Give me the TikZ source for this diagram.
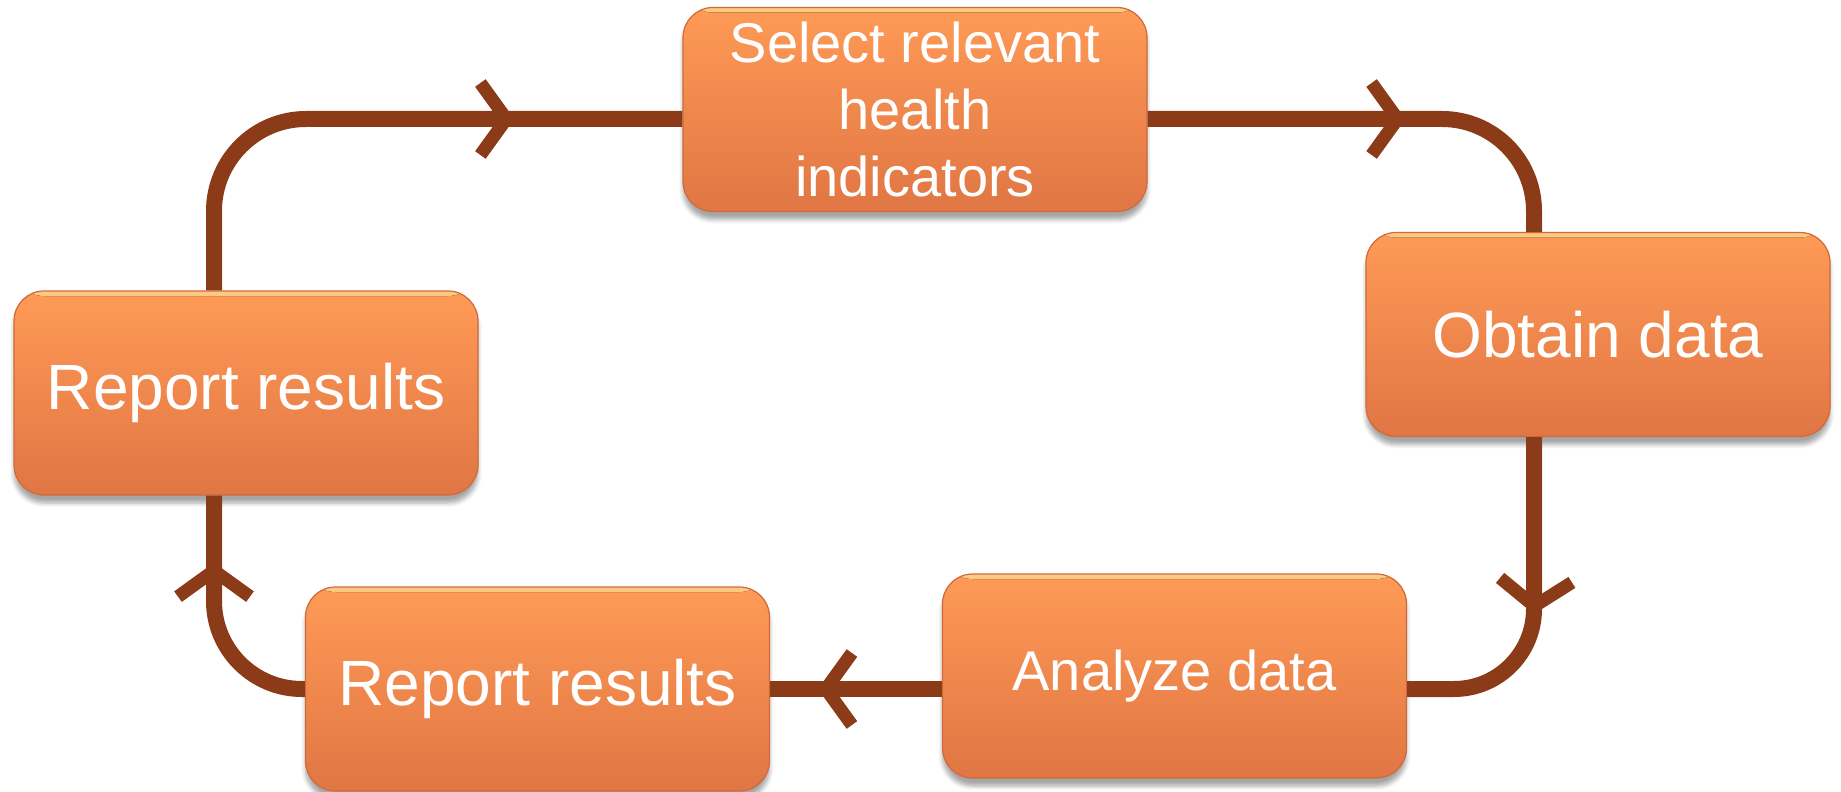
\documentclass[tikz,border=0pt]{standalone}
\usepackage{fontspec}
\setmainfont{Liberation Sans}
\usetikzlibrary{arrows.meta,decorations.markings,calc,shadows.blur}
\definecolor{boxtop}{HTML}{FF9A56}
\definecolor{boxbot}{HTML}{E07644}
\definecolor{boxhl}{HTML}{FFC983}
\definecolor{boxedge}{HTML}{D06A3A}
\definecolor{flow}{HTML}{8B3B17}
\begin{document}
\begin{tikzpicture}[x=0.5pt,y=-0.5pt,
  stage/.style={rounded corners=15pt, minimum width=232pt, minimum height=102pt,
    top color=boxtop, bottom color=boxbot, draw=boxedge, line width=0.6pt,
    text=white, align=center, inner sep=0pt,
    blur shadow={shadow xshift=0pt, shadow yshift=-4pt, shadow opacity=35, shadow blur steps=6},
    path picture={\fill[top color=boxhl, bottom color=boxtop]
      (path picture bounding box.north west) rectangle ([yshift=-2.5pt]path picture bounding box.north east);}},
  big/.style={font=\fontsize{32}{38}\selectfont},
  small/.style={font=\fontsize{28}{33.5}\selectfont},
  flowline/.style={draw=flow, line width=8pt, rounded corners=46pt},
  chev/.style={postaction={decorate, decoration={markings,
    mark=at position #1 with {\arrow[flow]{Straight Barb[length=13pt,width=36pt,line width=6.5pt]}}}}}
]
\useasboundingbox (0,0) rectangle (1841,792);

% process stages
\node[stage, small] (sel)  at (915,109.5) {Select relevant\\health\\indicators};
\node[stage, big]   (obt)  at (1598,334.5) {Obtain data};
\node[stage, small] (ana)  at (1174.5,676) {Analyze data};
\node[stage, big]   (rep2) at (537.5,689) {Report results};
\node[stage, big]   (rep1) at (246,393) {Report results};

% cycle connectors
\draw[flowline, chev=-84pt] ($(rep1.north)+(-32,0)$) |- ($(sel.west)+(0,9.5)$);
\draw[flowline, chev=129pt] ($(sel.east)+(0,9.5)$) -| ($(obt.north)+(-64,0)$);
\draw[flowline, rounded corners=40pt, chev=88.5pt] ($(obt.south)+(-64,0)$) |- ($(ana.east)+(0,13)$);
\draw[flowline, chev=62pt] ($(ana.west)+(0,13)$) -- (rep2.east);
\draw[flowline, rounded corners=44pt, chev=-33.5pt] (rep2.west) -| ($(rep1.south)+(-32,0)$);
\end{tikzpicture}
\end{document}
